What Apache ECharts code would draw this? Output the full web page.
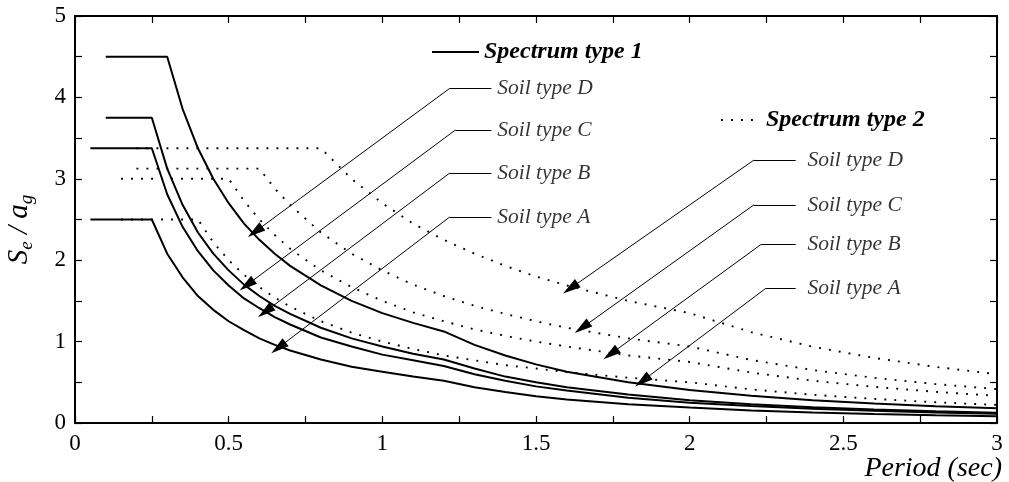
<!DOCTYPE html>
<html>
<head>
<meta charset="utf-8">
<script src="https://cdn.jsdelivr.net/npm/echarts@6/dist/echarts.min.js"></script>
<style>
  html, body { margin: 0; padding: 0; background: #fff; }
  #chart { width: 1009px; height: 482px; }
</style>
</head>
<body>
<div id="chart"></div>
<script>
// periods (sec) shared by all curves
const periods = [0.05, 0.1, 0.15, 0.2, 0.25, 0.3, 0.35, 0.4, 0.45, 0.5, 0.55, 0.6, 0.65, 0.7, 0.8, 0.9, 1.0, 1.1, 1.2, 1.3, 1.4, 1.5, 1.6, 1.8, 2.0, 2.2, 2.4, 2.6, 2.8, 3.0]

// Spectrum type 1 (solid)
const type1SoilA = [2.5, 2.5, 2.5, 2.5, 2.5, 2.08, 1.79, 1.56, 1.39, 1.25, 1.14, 1.04, 0.96, 0.89, 0.78, 0.69, 0.63, 0.57, 0.52, 0.44, 0.38, 0.33, 0.29, 0.23, 0.19, 0.155, 0.13, 0.11, 0.096, 0.083]
const type1SoilB = [3.375, 3.375, 3.375, 3.375, 3.375, 2.81, 2.41, 2.11, 1.875, 1.69, 1.53, 1.41, 1.3, 1.21, 1.05, 0.94, 0.84, 0.77, 0.7, 0.6, 0.52, 0.45, 0.4, 0.31, 0.25, 0.21, 0.176, 0.15, 0.129, 0.113]
const type1SoilC = [null, 3.75, 3.75, 3.75, 3.75, 3.125, 2.68, 2.34, 2.08, 1.875, 1.7, 1.56, 1.44, 1.34, 1.17, 1.04, 0.94, 0.85, 0.78, 0.67, 0.57, 0.5, 0.44, 0.35, 0.28, 0.23, 0.195, 0.166, 0.143, 0.125]
const type1SoilD = [null, 4.5, 4.5, 4.5, 4.5, 4.5, 3.86, 3.375, 3.0, 2.7, 2.45, 2.25, 2.08, 1.93, 1.69, 1.5, 1.35, 1.23, 1.125, 0.96, 0.83, 0.72, 0.63, 0.5, 0.405, 0.335, 0.28, 0.24, 0.207, 0.18]

// Spectrum type 2 (dotted)
const type2SoilA = [null, null, 2.5, 2.5, 2.5, 2.5, 2.5, 2.5, 2.22, 2.0, 1.82, 1.67, 1.54, 1.43, 1.25, 1.11, 1.0, 0.91, 0.83, 0.77, 0.71, 0.67, 0.625, 0.556, 0.5, 0.413, 0.347, 0.296, 0.255, 0.222]
const type2SoilB = [null, null, 3.0, 3.0, 3.0, 3.0, 3.0, 3.0, 3.0, 3.0, 2.73, 2.5, 2.31, 2.14, 1.875, 1.67, 1.5, 1.36, 1.25, 1.15, 1.07, 1.0, 0.94, 0.83, 0.75, 0.62, 0.52, 0.444, 0.383, 0.333]
const type2SoilC = [null, null, null, 3.125, 3.125, 3.125, 3.125, 3.125, 3.125, 3.125, 3.125, 3.125, 2.88, 2.68, 2.34, 2.08, 1.875, 1.7, 1.56, 1.44, 1.34, 1.25, 1.17, 1.04, 0.94, 0.775, 0.651, 0.555, 0.478, 0.417]
const type2SoilD = [null, null, null, 3.375, 3.375, 3.375, 3.375, 3.375, 3.375, 3.375, 3.375, 3.375, 3.375, 3.375, 3.375, 3.0, 2.7, 2.45, 2.25, 2.08, 1.93, 1.8, 1.69, 1.5, 1.35, 1.116, 0.9375, 0.8, 0.689, 0.6]

// annotation text and leader lines (data coords)
const soilNames = ['Soil type D', 'Soil type C', 'Soil type B', 'Soil type A']
const type1LabelY = [4.11, 3.6, 3.07, 2.53]
const type1Elbow = [1.219, 1.238, 1.219, 1.219]
const type1Tips = [[0.586, 2.35], [0.559, 1.695], [0.619, 1.367], [0.662, 0.925]]
const type1LineEnd = 1.355
const type1TextX = 1.374
const type2LabelY = [3.23, 2.68, 2.19, 1.655]
const type2Elbow = [2.209, 2.209, 2.231, 2.248]
const type2Tips = [[1.612, 1.655], [1.65, 1.17], [1.743, 0.848], [1.846, 0.516]]
const type2LineEnd = 2.345
const type2TextX = 2.383

const serif = 'Liberation Serif'

function pairs (vals) {
  return periods.map((t, i) => [t, vals[i]]).filter(p => p[1] != null)
}

const solidStyle = { color: '#000', width: 2 }
const dotStyle = { color: '#000', width: 1.9, type: [1.9, 8.1], cap: 'butt' }

const curveSeries = []
;[type1SoilA, type1SoilB, type1SoilC, type1SoilD].forEach(v => {
  curveSeries.push({ name: 'Spectrum type 1', type: 'line', data: pairs(v), symbol: 'none', itemStyle: { color: '#000' }, lineStyle: solidStyle, z: 4, silent: true })
})
;[type2SoilA, type2SoilB, type2SoilC, type2SoilD].forEach(v => {
  curveSeries.push({ name: 'Spectrum type 2', type: 'line', data: pairs(v), symbol: 'none', itemStyle: { color: '#000' }, lineStyle: dotStyle, z: 3, silent: true })
})

const labelData = []
const leaderLines = []
function addGroup (labelY, elbow, tips, lineEnd, textX) {
  soilNames.forEach((name, i) => {
    labelData.push([textX, labelY[i], name])
    leaderLines.push([{ coord: [elbow[i], labelY[i]], symbol: 'none' }, { coord: [lineEnd, labelY[i]], symbol: 'none' }])
    leaderLines.push([{ coord: [elbow[i], labelY[i]], symbol: 'none' }, { coord: tips[i], symbol: 'triangle', symbolSize: [10, 18] }])
  })
}
addGroup(type1LabelY, type1Elbow, type1Tips, type1LineEnd, type1TextX)
addGroup(type2LabelY, type2Elbow, type2Tips, type2LineEnd, type2TextX)

const tickLabel = { color: '#000', fontFamily: serif, fontSize: 23 }
const axisLine = { show: true, onZero: false, lineStyle: { color: '#000', width: 2 } }
const tick = { show: true, inside: true, length: 7, lineStyle: { color: '#000', width: 1.2 } }
const minorTick = { show: true, splitNumber: 2, length: 7, lineStyle: { color: '#000', width: 1.2 } }

const legendText = { color: '#000', fontFamily: serif, fontStyle: 'italic', fontWeight: 'bold', fontSize: 24 }

const chart = echarts.init(document.getElementById('chart'))
chart.setOption({
  animation: false,
  backgroundColor: '#fff',
  grid: { left: 75, right: 12, top: 16, bottom: 59, outerBoundsMode: 'none' },
  legend: [
    { data: ['Spectrum type 1'], left: 431, top: 40, itemWidth: 47, itemHeight: 14, padding: 0, selectedMode: false, itemStyle: { opacity: 0 }, textStyle: legendText },
    { data: ['Spectrum type 2'], left: 720, top: 108, itemWidth: 40, itemHeight: 14, padding: 0, selectedMode: false, itemStyle: { opacity: 0 }, textStyle: legendText }
  ],
  xAxis: [
    {
      type: 'value', min: 0, max: 3, interval: 0.5,
      name: 'Period (sec)', nameLocation: 'end', nameGap: 5,
      nameTextStyle: { color: '#000', fontFamily: serif, fontStyle: 'italic', fontSize: 28, align: 'right', verticalAlign: 'top', padding: [32, 0, 0, 0] },
      axisLine, axisTick: tick, minorTick, splitLine: { show: false },
      axisLabel: Object.assign({ margin: 9, showMinLabel: true, showMaxLabel: true }, tickLabel)
    },
    {
      type: 'value', min: 0, max: 3, interval: 0.5, position: 'top',
      axisLine, axisTick: tick, minorTick, splitLine: { show: false }, axisLabel: { show: false }
    }
  ],
  yAxis: [
    {
      type: 'value', min: 0, max: 5, interval: 1,
      name: '{s|S}{sub|e}{s| / a}{sub|g}', nameLocation: 'middle', nameGap: 40, nameRotate: 90,
      nameTextStyle: {
        padding: [0, 20, 0, 0],
        rich: {
          s: { fontFamily: serif, fontStyle: 'italic', fontSize: 29, color: '#000', lineHeight: 32 },
          sub: { fontFamily: serif, fontStyle: 'italic', fontSize: 19, color: '#000', lineHeight: 32, padding: [16, 0, 0, 0] }
        }
      },
      axisLine, axisTick: tick, minorTick, splitLine: { show: false },
      axisLabel: Object.assign({ margin: 9, showMinLabel: true, showMaxLabel: true }, tickLabel)
    },
    {
      type: 'value', min: 0, max: 5, interval: 1, position: 'right',
      axisLine, axisTick: tick, minorTick, splitLine: { show: false }, axisLabel: { show: false }
    }
  ],
  series: curveSeries.concat([
    {
      name: 'labels',
      type: 'scatter',
      data: labelData,
      symbolSize: 0,
      silent: true,
      label: {
        show: true, position: 'right', distance: 0,
        formatter: p => p.value[2],
        color: '#000', fontFamily: serif, fontStyle: 'italic', fontSize: 21.5
      },
      markLine: {
        silent: true,
        animation: false,
        symbol: ['none', 'none'],
        label: { show: false },
        emphasis: { disabled: true },
        lineStyle: { color: '#000', width: 1, type: 'solid' },
        data: leaderLines
      }
    }
  ])
})
</script>
</body>
</html>
